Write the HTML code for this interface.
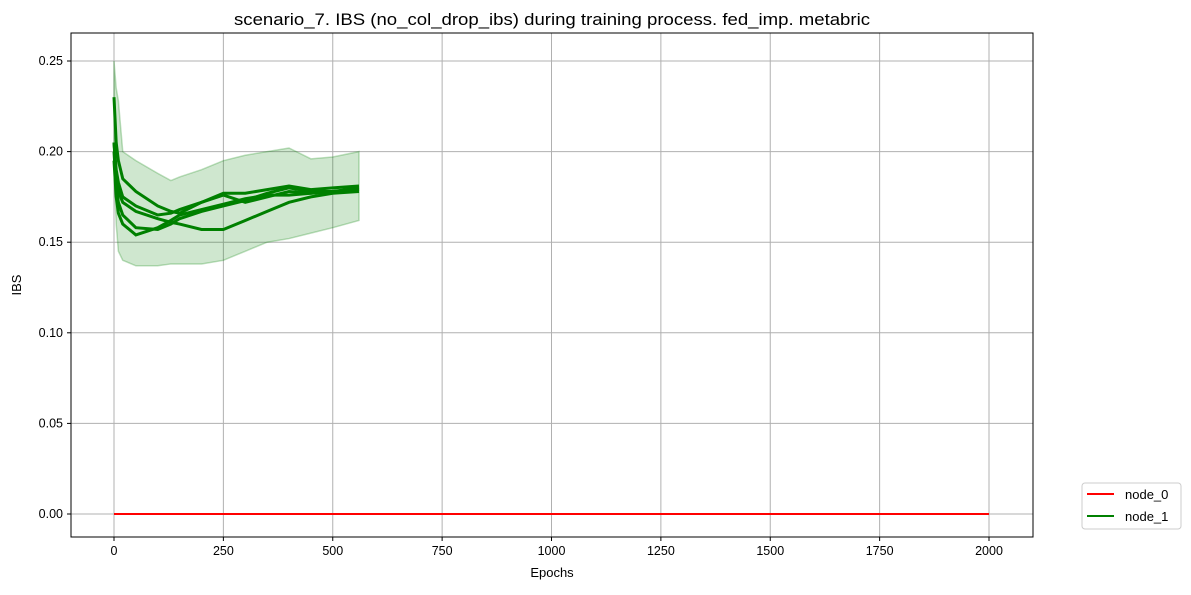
<!DOCTYPE html>
<html><head><meta charset="utf-8"><style>
body{margin:0;background:#fff;font-family:"Liberation Sans","DejaVu Sans",sans-serif}
</style></head><body>
<svg id="chart" width="1191" height="590" xmlns="http://www.w3.org/2000/svg" font-family="Liberation Sans, DejaVu Sans, sans-serif">
<rect width="1191" height="590" fill="#fff"/>
<g id="grid"></g>
<g id="band"></g>
<g id="series"></g>
<rect x="71" y="33" width="962" height="504" fill="none" stroke="#000" stroke-width="1"/>
<g id="ticks" font-size="12.5"></g>
<text x="552" y="25" font-size="17" text-anchor="middle" textLength="636" lengthAdjust="spacingAndGlyphs">scenario_7. IBS (no_col_drop_ibs) during training process. fed_imp. metabric</text>
<text x="552" y="577" font-size="13" text-anchor="middle">Epochs</text>
<text transform="translate(21,285) rotate(-90)" font-size="13" text-anchor="middle">IBS</text>
<g>
<rect x="1082" y="483" width="99" height="46" rx="3" fill="#fff" stroke="#ccc"/>
<line x1="1087" y1="494" x2="1114" y2="494" stroke="red" stroke-width="2"/>
<text x="1125" y="499" font-size="13">node_0</text>
<line x1="1087" y1="516" x2="1114" y2="516" stroke="green" stroke-width="2"/>
<text x="1125" y="521" font-size="13">node_1</text>
</g>
</svg>
<script>
const xTicks=[0,250,500,750,1000,1250,1500,1750,2000];
const yTicks=[0,0.05,0.10,0.15,0.20,0.25];
const yTickLabels=["0.00","0.05","0.10","0.15","0.20","0.25"];
const epochs=[0,5,10,20,50,100,130,150,200,250,300,350,400,450,500,560];
const run1=[0.230,0.205,0.195,0.185,0.178,0.170,0.167,0.166,0.172,0.177,0.177,0.179,0.181,0.179,0.180,0.181];
const run2=[0.205,0.185,0.178,0.172,0.167,0.163,0.161,0.160,0.157,0.157,0.162,0.167,0.172,0.175,0.177,0.178];
const run3=[0.200,0.180,0.172,0.165,0.158,0.157,0.160,0.163,0.167,0.170,0.173,0.177,0.180,0.178,0.178,0.180];
const run4=[0.195,0.175,0.166,0.160,0.154,0.158,0.162,0.165,0.168,0.171,0.174,0.176,0.176,0.177,0.178,0.179];
const run5=[0.205,0.190,0.183,0.175,0.170,0.165,0.166,0.168,0.172,0.176,0.172,0.175,0.178,0.177,0.178,0.179];
const bandUpper=[0.250,0.235,0.228,0.200,0.195,0.188,0.184,0.186,0.190,0.195,0.198,0.200,0.202,0.196,0.197,0.200];
const bandLower=[0.190,0.160,0.145,0.140,0.137,0.137,0.138,0.138,0.138,0.140,0.145,0.150,0.152,0.155,0.158,0.162];
const node0Epochs=[0,2000];
const node0Values=[0,0];
const NS="http://www.w3.org/2000/svg";
const X=v=>114+v*(875/2000);
const Y=v=>514-v*(453/0.25);
function mk(tag,attrs,parent){const e=document.createElementNS(NS,tag);for(const k in attrs)e.setAttribute(k,attrs[k]);parent.appendChild(e);return e;}
const grid=document.getElementById('grid'),ticks=document.getElementById('ticks');
xTicks.forEach(t=>{
  const l=mk('line',{x1:X(t),x2:X(t),y1:33,y2:537,stroke:'#b0b0b0','stroke-width':1},grid);
  
  
  mk('line',{x1:X(t),x2:X(t),y1:537,y2:541,stroke:'#000'},ticks);
  const tx=mk('text',{x:X(t),y:555,'text-anchor':'middle'},ticks);tx.textContent=t;
  
  
});
yTicks.forEach((t,i)=>{
  const l=mk('line',{x1:71,x2:1033,y1:Y(t),y2:Y(t),stroke:'#b0b0b0','stroke-width':1},grid);
  
  
  mk('line',{x1:67,x2:71,y1:Y(t),y2:Y(t),stroke:'#000'},ticks);
  const tx=mk('text',{x:63,y:Y(t)+4,'text-anchor':'end'},ticks);tx.textContent=yTickLabels[i];
  
  
});
let d='';
epochs.forEach((e,i)=>{d+=(i?'L':'M')+X(e)+' '+Y(bandUpper[i]);});
for(let i=epochs.length-1;i>=0;i--)d+='L'+X(epochs[i])+' '+Y(bandLower[i]);
const band=mk('path',{d:d+'Z',fill:'green','fill-opacity':0.19,stroke:'green','stroke-opacity':0.25,'stroke-width':1.5},document.getElementById('band'));


const ser=document.getElementById('series');
[run1,run2,run3,run4,run5].forEach((r,j)=>{
  const p=mk('polyline',{points:epochs.map((e,i)=>X(e)+','+Y(r[i])).join(' '),fill:'none',stroke:'green','stroke-width':3},ser);
  
  
});
const red=mk('polyline',{points:node0Epochs.map((e,i)=>X(e)+','+Y(node0Values[i])).join(' '),fill:'none',stroke:'red','stroke-width':2},ser);


</script>
</body></html>
